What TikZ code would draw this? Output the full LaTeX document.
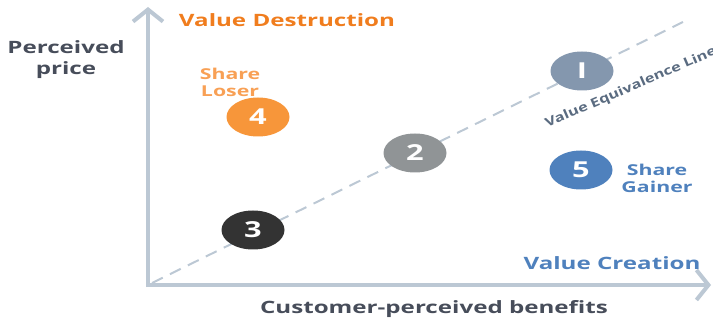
\documentclass[tikz,border=0pt]{standalone}
\usepackage{fontspec}
\setmainfont{Open Sans}
\usetikzlibrary{arrows.meta,shapes.geometric}
\definecolor{axisc}{HTML}{BCC8D4}
\definecolor{darktxt}{HTML}{474D5A}
\definecolor{orangeA}{HTML}{F07D1E}
\definecolor{orangeB}{HTML}{F8A055}
\definecolor{orangeC}{HTML}{F7963A}
\definecolor{blueA}{HTML}{4F81BD}
\definecolor{slate}{HTML}{8497AE}
\definecolor{grayc}{HTML}{909496}
\definecolor{darkc}{HTML}{333333}
\definecolor{linetxt}{HTML}{5A6B80}
\begin{document}
\begin{tikzpicture}[x=1pt,y=-1pt,
  lbl/.style={font=\fontsize{17}{21}\selectfont\bfseries, align=center, xscale=1.42, transform shape, inner sep=0pt},
  smalllbl/.style={font=\fontsize{15}{17}\selectfont\bfseries, align=center, xscale=1.42, transform shape, inner sep=0pt},
  dot/.style={ellipse, minimum width=63pt, minimum height=39pt, inner sep=0pt, text=white,
    font=\fontsize{22}{22}\selectfont\bfseries},
  axis/.style={line width=4.5pt, draw=axisc, -{Straight Barb[length=12pt, width=30pt, line width=4pt]}}
]
\useasboundingbox (0,0) rectangle (713,320);
\coordinate (O) at (148,285);
\coordinate (Ytop) at (148,7);
\coordinate (Xend) at (711,285);
\coordinate (Ls) at (152,283);
\coordinate (Le) at (683,22);
\draw[axis, line cap=butt] (148,287.2) -- (Ytop);
\draw[axis] (O) -- (Xend);
\draw[axisc, line width=2pt, dash pattern=on 12pt off 8pt] (Ls) -- (Le);

\node[dot, fill=slate] (n1) at (582,71) {\scalebox{1.4}[1]{I}};
\node[dot, fill=grayc] (n2) at (415,153) {\scalebox{1.4}[1]{2}};
\node[dot, fill=darkc] (n3) at (253,230) {\scalebox{1.4}[1]{3}};
\node[dot, fill=orangeC] (n4) at (258,117) {\scalebox{1.4}[1]{4}};
\node[dot, fill=blueA] (n5) at (581,170) {\scalebox{1.4}[1]{5}};

\node[lbl, text=orangeA] (vd) at (287,20) {Value Destruction};
\node[lbl, text=darktxt] (pp) at (66,60) {Perceived\\price};
\node[smalllbl, text=orangeB] (sl) at (230,82) {Share\\Loser};
\node[smalllbl, text=blueA] (sg) at (657,178) {Share\\Gainer};
\node[lbl, text=blueA] (vc) at (612,263) {Value Creation};
\node[lbl, text=darktxt] (cb) at (434,309) {Customer-perceived benefits};
\node[font=\fontsize{12.5}{14}\selectfont\bfseries, text=linetxt, inner sep=0pt, rotate=23.5, xscale=1.3, transform shape] (vel) at (631,88) {Value Equivalence Line};
\end{tikzpicture}
\end{document}
